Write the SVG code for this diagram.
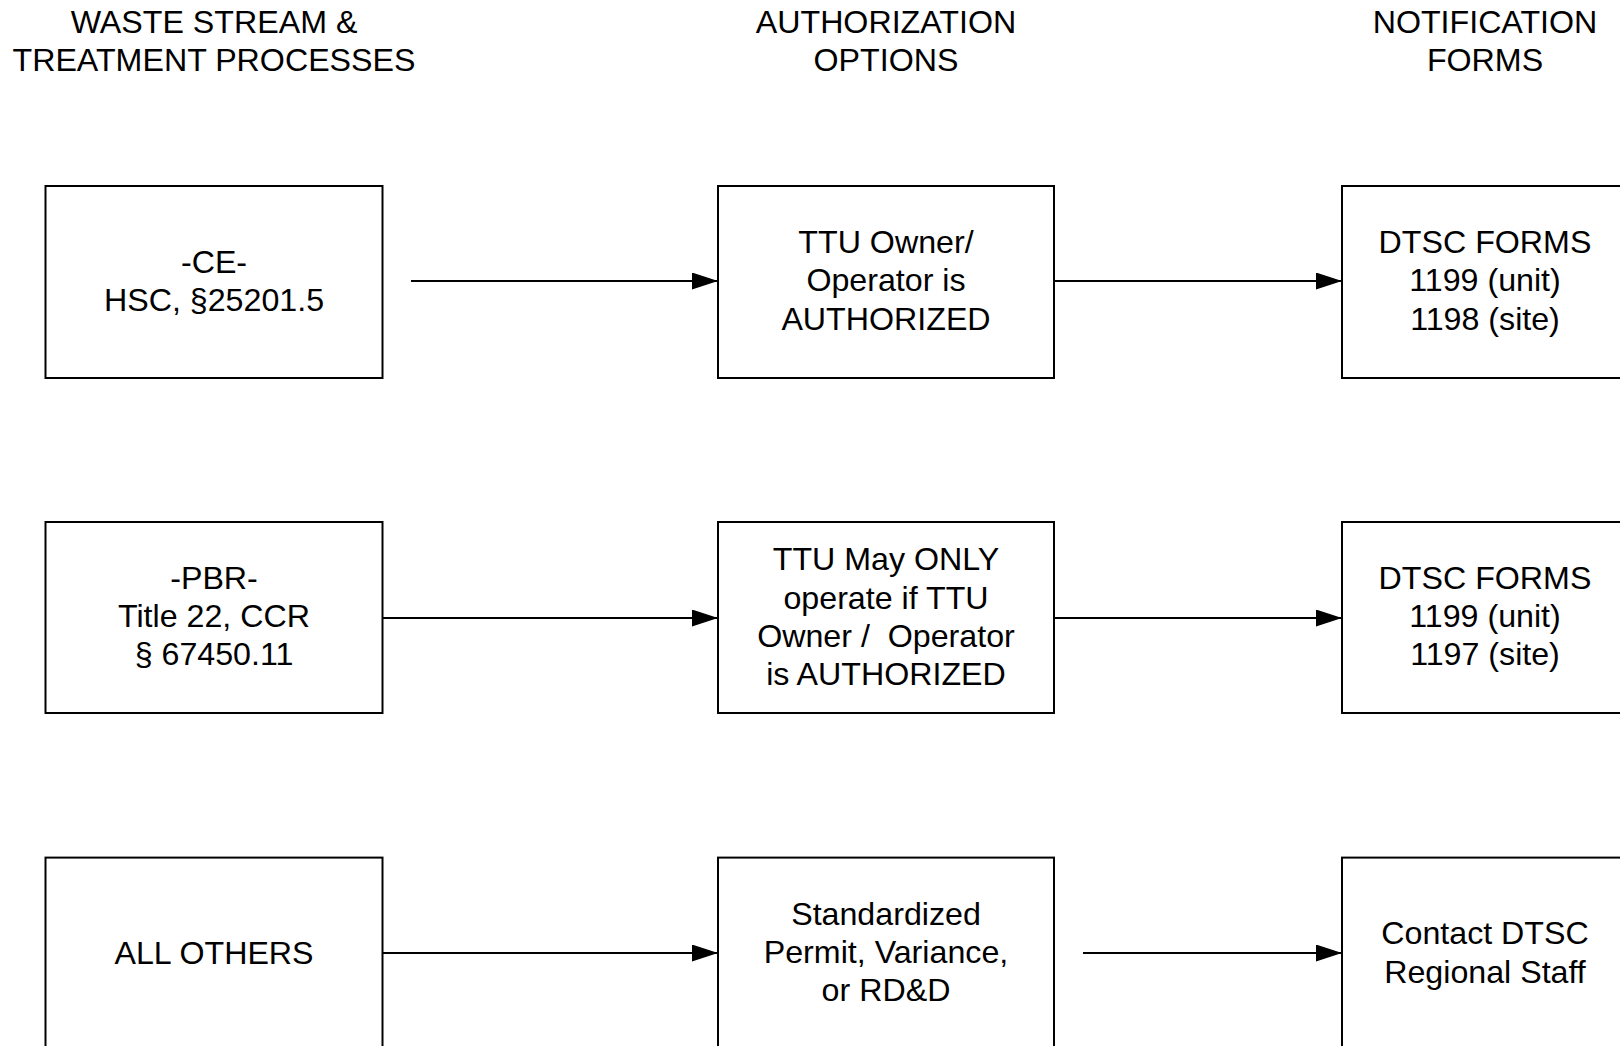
<svg xmlns="http://www.w3.org/2000/svg" width="1620" height="1046" viewBox="0 0 1620 1046">
<style>
text{font-family:"Liberation Sans",Arial,sans-serif;font-size:32.2px;fill:#000;text-anchor:middle}
.box{fill:#fff;stroke:#000;stroke-width:2}
.conn{stroke:#000;stroke-width:2;fill:none}
</style>
<defs>
<marker id="ah" markerUnits="userSpaceOnUse" markerWidth="27" markerHeight="18" refX="26" refY="8.5" orient="auto">
<path d="M0,0 L26,8.5 L0,17 Z" fill="#000"/>
</marker>
</defs>
<rect width="1620" height="1046" fill="#fff"/>
<g id="headers">
<text x="214" y="33">WASTE STREAM &amp;</text>
<text x="214" y="71.3">TREATMENT PROCESSES</text>
<text x="886" y="33">AUTHORIZATION</text>
<text x="886" y="71.3">OPTIONS</text>
<text x="1485" y="33">NOTIFICATION</text>
<text x="1485" y="71.3">FORMS</text>
</g>
<g id="connectors">
<line class="conn" x1="411" y1="281" x2="718" y2="281" marker-end="url(#ah)"/>
<line class="conn" x1="1054" y1="281" x2="1342" y2="281" marker-end="url(#ah)"/>
<line class="conn" x1="382" y1="618" x2="718" y2="618" marker-end="url(#ah)"/>
<line class="conn" x1="1054" y1="618" x2="1342" y2="618" marker-end="url(#ah)"/>
<line class="conn" x1="382" y1="953" x2="718" y2="953" marker-end="url(#ah)"/>
<line class="conn" x1="1083" y1="953" x2="1342" y2="953" marker-end="url(#ah)"/>
</g>
<g id="ce">
<rect class="box" x="45.5" y="186" width="337" height="192"/>
<text x="214" y="272.7">-CE-</text>
<text x="214" y="311">HSC, §25201.5</text>
</g>
<g id="ttu-authorized">
<rect class="box" x="718" y="186" width="336" height="192"/>
<text x="886" y="253">TTU Owner/</text>
<text x="886" y="291.3">Operator is</text>
<text x="886" y="329.6">AUTHORIZED</text>
</g>
<g id="forms-1198">
<rect class="box" x="1342" y="186" width="336" height="192"/>
<text x="1485" y="253">DTSC FORMS</text>
<text x="1485" y="291.3">1199 (unit)</text>
<text x="1485" y="329.6">1198 (site)</text>
</g>
<g id="pbr">
<rect class="box" x="45.5" y="522" width="337" height="191"/>
<text x="214" y="588.8">-PBR-</text>
<text x="214" y="627.1">Title 22, CCR</text>
<text x="214" y="665.4">§ 67450.11</text>
</g>
<g id="ttu-may-only">
<rect class="box" x="718" y="522" width="336" height="191"/>
<text x="886" y="570.3">TTU May ONLY</text>
<text x="886" y="608.6">operate if TTU</text>
<text x="886" y="646.9" xml:space="preserve">Owner /  Operator</text>
<text x="886" y="685.2">is AUTHORIZED</text>
</g>
<g id="forms-1197">
<rect class="box" x="1342" y="522" width="336" height="191"/>
<text x="1485" y="588.8">DTSC FORMS</text>
<text x="1485" y="627.1">1199 (unit)</text>
<text x="1485" y="665.4">1197 (site)</text>
</g>
<g id="all-others">
<rect class="box" x="45.5" y="857.6" width="337" height="192"/>
<text x="214" y="964">ALL OTHERS</text>
</g>
<g id="standardized-permit">
<rect class="box" x="718" y="857.6" width="336" height="192"/>
<text x="886" y="924.7">Standardized</text>
<text x="886" y="963">Permit, Variance,</text>
<text x="886" y="1001.3">or RD&amp;D</text>
</g>
<g id="contact-dtsc">
<rect class="box" x="1342" y="857.6" width="336" height="192"/>
<text x="1485" y="944.3">Contact DTSC</text>
<text x="1485" y="982.6">Regional Staff</text>
</g>
</svg>
